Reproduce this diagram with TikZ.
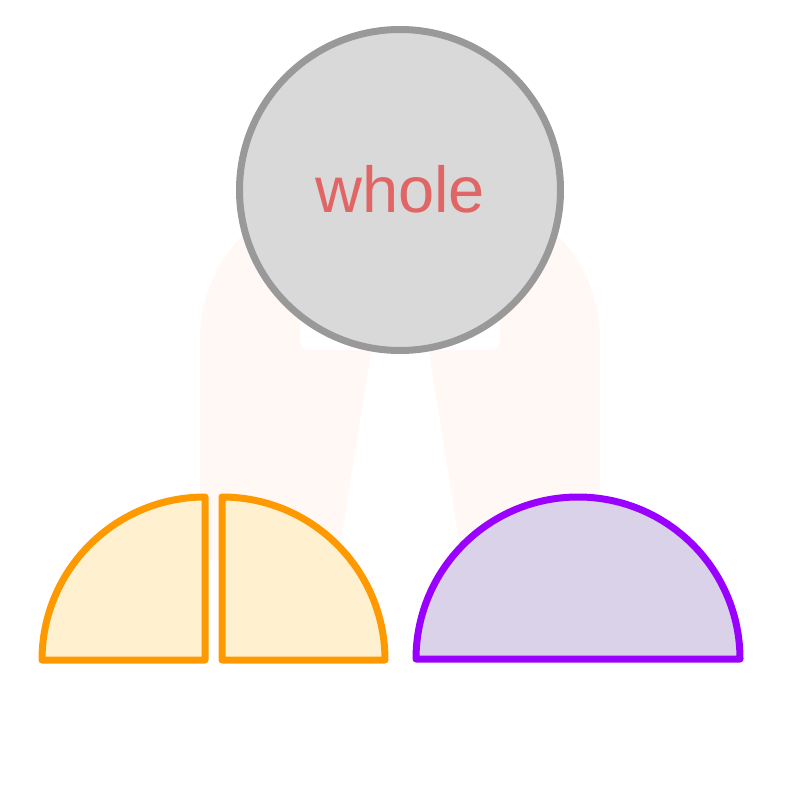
\documentclass[tikz,border=0pt]{standalone}
\usepackage{fontspec}
\setmainfont{Liberation Sans}
\definecolor{pale}{HTML}{FFF8F5}
\definecolor{circfill}{HTML}{D9D9D9}
\definecolor{circdraw}{HTML}{999999}
\definecolor{txtred}{HTML}{E06666}
\definecolor{orng}{HTML}{FF9900}
\definecolor{orngfill}{HTML}{FFF0CF}
\definecolor{purp}{HTML}{9900FF}
\definecolor{purpfill}{HTML}{D9D2E9}
\tikzset{
  part/.style={line width=7pt, line join=round, line cap=round},
  halfA/.style={part, draw=orng, fill=orngfill},
  halfB/.style={part, draw=purp, fill=purpfill},
}
\begin{document}
\begin{tikzpicture}[x=1pt,y=-1pt]
\useasboundingbox (0,0) rectangle (800,800);
\fill[white] (0,0) rectangle (800,800);
% pale backdrop
\fill[pale] (200,560) -- (200,340) arc[start angle=180,end angle=270,radius=150] -- (450,190) arc[start angle=270,end angle=360,radius=150] -- (600,560) -- cycle;
\fill[white, rounded corners=9pt] (300,200) rectangle (500,350);
\fill[white] (372,345) -- (428,345) -- (462,560) -- (338,560) -- cycle;
% whole
\node[circle, draw=circdraw, fill=circfill, line width=7pt, minimum size=321pt, inner sep=0pt] (whole) at (400,190) {};
\node[anchor=base, text=txtred, font=\fontsize{65}{70}\selectfont] (wholetxt) at (400,212) {whole};
% orange quarters
\draw[halfA] (205,660) -- (42,660) arc[start angle=180,end angle=270,radius=163] -- cycle;
\draw[halfA] (222,660) -- (222,497) arc[start angle=270,end angle=360,radius=163] -- cycle;
% purple half
\draw[halfB] (416,659) arc[start angle=180,end angle=360,radius=162] -- cycle;
\end{tikzpicture}
\end{document}
